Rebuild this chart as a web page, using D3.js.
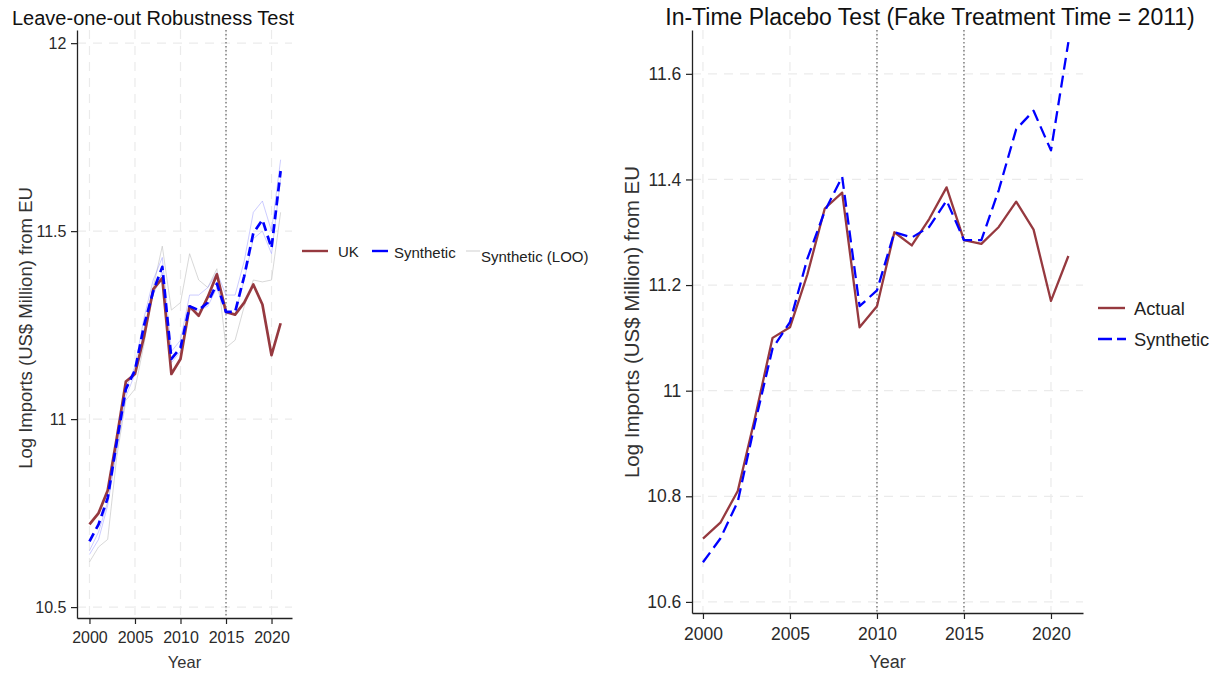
<!DOCTYPE html>
<html>
<head>
<meta charset="utf-8">
<script src="https://cdn.jsdelivr.net/npm/d3@7"></script>
<style>
  html, body { margin: 0; padding: 0; background: #fff; }
  svg { display: block; font-family: "Liberation Sans", Arial, sans-serif; }
</style>
</head>
<body>
<svg id="chart" width="1225" height="677"></svg>
<script>
// Years covered by both panels
const years = d3.range(2000, 2022);

// UK actual log imports from EU
const ukActual = [10.72, 10.75, 10.81, 10.95, 11.10, 11.12, 11.22, 11.345, 11.375, 11.12, 11.16,
                  11.30, 11.275, 11.325, 11.385, 11.285, 11.278, 11.31, 11.358, 11.305, 11.17, 11.255];

// Synthetic control
const synthetic = [10.675, 10.72, 10.79, 10.94, 11.08, 11.13, 11.25, 11.34, 11.405, 11.16, 11.19,
                   11.30, 11.29, 11.31, 11.36, 11.285, 11.285, 11.38, 11.495, 11.53, 11.455, 11.66];

// Leave-one-out synthetic series
const looA = [10.65, 10.70, 10.78, 10.93, 11.08, 11.14, 11.27, 11.37, 11.43, 11.18, 11.21,
              11.33, 11.33, 11.35, 11.39, 11.33, 11.33, 11.42, 11.55, 11.58, 11.50, 11.69];
const looB = [10.64, 10.68, 10.77, 10.92, 11.06, 11.12, 11.24, 11.33, 11.39, 11.15, 11.18,
              11.29, 11.29, 11.30, 11.35, 11.28, 11.28, 11.37, 11.48, 11.50, 11.44, 11.64];
const looC = [10.62, 10.66, 10.68, 10.90, 11.05, 11.08, 11.20, 11.35, 11.46, 11.29, 11.31,
              11.44, 11.37, 11.35, 11.40, 11.19, 11.21, 11.30, 11.37, 11.365, 11.37, 11.55];

// Axis ticks
const xTicks = [2000, 2005, 2010, 2015, 2020];
const yTicksLeft = [10.5, 11, 11.5, 12];
const yTicksRight = [10.6, 10.8, 11, 11.2, 11.4, 11.6];

// Vertical reference years
const refLeft = [2015];
const refRight = [2010, 2015];

const svg = d3.select("#chart");
const RED = "#96393f";
const BLUE = "#0000ff";
const GRID = "#ebebeb";

function panel(cfg) {
  const g = svg.append("g");
  const x = d3.scaleLinear().domain(cfg.xDomain).range([cfg.left, cfg.right]);
  const y = d3.scaleLinear().domain(cfg.yDomain).range([cfg.bottom, cfg.top]);

  // grid
  g.append("g").selectAll("line").data(cfg.yTicks).join("line")
    .attr("x1", cfg.left).attr("x2", cfg.right)
    .attr("y1", d => y(d)).attr("y2", d => y(d))
    .attr("stroke", GRID).attr("stroke-width", 1.2).attr("stroke-dasharray", "9,7");
  g.append("g").selectAll("line").data(xTicks).join("line")
    .attr("x1", d => x(d)).attr("x2", d => x(d))
    .attr("y1", cfg.top).attr("y2", cfg.bottom)
    .attr("stroke", GRID).attr("stroke-width", 1.2).attr("stroke-dasharray", "9,7");

  // reference lines
  g.append("g").selectAll("line").data(cfg.refs).join("line")
    .attr("x1", d => x(d)).attr("x2", d => x(d))
    .attr("y1", cfg.top).attr("y2", cfg.bottom)
    .attr("stroke", "#444").attr("stroke-width", 1).attr("stroke-dasharray", "1.5,2.5");

  const line = d3.line().x((d, i) => x(years[i])).y(d => y(d));

  (cfg.series || []).forEach(s => {
    g.append("path").datum(s.values)
      .attr("d", line)
      .attr("fill", "none")
      .attr("stroke", s.color)
      .attr("stroke-width", s.width)
      .attr("stroke-opacity", s.opacity == null ? 1 : s.opacity)
      .attr("stroke-dasharray", s.dash || null)
      .attr("stroke-linejoin", "round");
  });

  // axes
  const xAxis = d3.axisBottom(x).tickValues(xTicks).tickFormat(d3.format("d")).tickSize(6).tickSizeOuter(0);
  const yAxis = d3.axisLeft(y).tickValues(cfg.yTicks).tickFormat(d => String(d)).tickSize(6).tickSizeOuter(0);
  const gx = g.append("g").attr("transform", `translate(0,${cfg.bottom})`).call(xAxis);
  const gy = g.append("g").attr("transform", `translate(${cfg.left},0)`).call(yAxis);
  [gx, gy].forEach(a => {
    a.select(".domain").attr("stroke", "#222").attr("stroke-width", 1.3);
    a.selectAll(".tick line").attr("stroke", "#222").attr("stroke-width", 1.2);
    a.selectAll(".tick text").attr("fill", "#2a2a2a").style("font-size", cfg.tickFont + "px")
      .style("font-family", "Liberation Sans, Arial, sans-serif");
  });
  gx.selectAll(".tick text").attr("dy", "1.0em");
  gy.selectAll(".tick text").attr("dx", "-0.1em");

  // titles
  g.append("text").attr("x", cfg.titleX).attr("y", 25)
    .attr("text-anchor", cfg.titleAnchor).attr("fill", "#111")
    .style("font-size", cfg.titleFont + "px").text(cfg.title);
  g.append("text").attr("x", (cfg.left + cfg.right) / 2).attr("y", cfg.xLabelY)
    .attr("text-anchor", "middle").attr("fill", "#333")
    .style("font-size", cfg.labelFont + "px").text("Year");
  g.append("text")
    .attr("transform", `translate(${cfg.yLabelX},${cfg.yLabelY}) rotate(-90)`)
    .attr("text-anchor", "middle").attr("fill", "#333")
    .style("font-size", cfg.yLabelFont + "px").text("Log Imports (US$ Million) from EU");
  return { x, y, g };
}

// Left panel: leave-one-out robustness
panel({
  left: 77, right: 292, top: 30, bottom: 618,
  xDomain: [1998.63, 2022.25], yDomain: [10.471, 12.035],
  yTicks: yTicksLeft, refs: refLeft, tickFont: 16,
  title: "Leave-one-out Robustness Test", titleX: 12, titleAnchor: "start", titleFont: 20,
  xLabelY: 668, labelFont: 16.5, yLabelX: 32, yLabelY: 328, yLabelFont: 18.5,
  series: [
    { values: looC, color: "#c8c8c8", width: 1, opacity: 0.7 },
    { values: looA, color: "#8f8fff", width: 1, opacity: 0.45 },
    { values: looB, color: "#8f8fff", width: 1, opacity: 0.45 },
    { values: ukActual, color: RED, width: 2.7 },
    { values: synthetic, color: BLUE, width: 2.7, dash: "9,5" }
  ]
});

// Right panel: in-time placebo
panel({
  left: 692, right: 1083, top: 30, bottom: 613,
  xDomain: [1999.37, 2021.84], yDomain: [10.579, 11.683],
  yTicks: yTicksRight, refs: refRight, tickFont: 17.5,
  title: "In-Time Placebo Test (Fake Treatment Time = 2011)", titleX: 930, titleAnchor: "middle", titleFont: 23,
  xLabelY: 668, labelFont: 18, yLabelX: 639, yLabelY: 322, yLabelFont: 20.5,
  series: [
    { values: ukActual, color: RED, width: 2.3 },
    { values: synthetic, color: BLUE, width: 2.3, dash: "12,6" }
  ]
});

// Left legend
const legL = svg.append("g").style("font-size", "15px").attr("fill", "#222");
legL.append("line").attr("x1", 302).attr("x2", 328).attr("y1", 251).attr("y2", 251)
  .attr("stroke", RED).attr("stroke-width", 2.4);
legL.append("text").attr("x", 338).attr("y", 257).text("UK");
legL.append("line").attr("x1", 372).attr("x2", 388).attr("y1", 251).attr("y2", 251)
  .attr("stroke", BLUE).attr("stroke-width", 2.4);
legL.append("text").attr("x", 394).attr("y", 258).text("Synthetic");
legL.append("line").attr("x1", 466).attr("x2", 480).attr("y1", 251).attr("y2", 251)
  .attr("stroke", "#d8d8d8").attr("stroke-width", 1.2);
legL.append("text").attr("x", 481).attr("y", 262).text("Synthetic (LOO)");

// Right legend
const legR = svg.append("g").style("font-size", "18.3px").attr("fill", "#222");
legR.append("line").attr("x1", 1098).attr("x2", 1125).attr("y1", 308).attr("y2", 308)
  .attr("stroke", RED).attr("stroke-width", 2.4);
legR.append("text").attr("x", 1134).attr("y", 315).text("Actual");
legR.append("line").attr("x1", 1098).attr("x2", 1126).attr("y1", 339).attr("y2", 339)
  .attr("stroke", BLUE).attr("stroke-width", 2.4).attr("stroke-dasharray", "14,5");
legR.append("text").attr("x", 1134).attr("y", 346).text("Synthetic");
</script>
</body>
</html>
